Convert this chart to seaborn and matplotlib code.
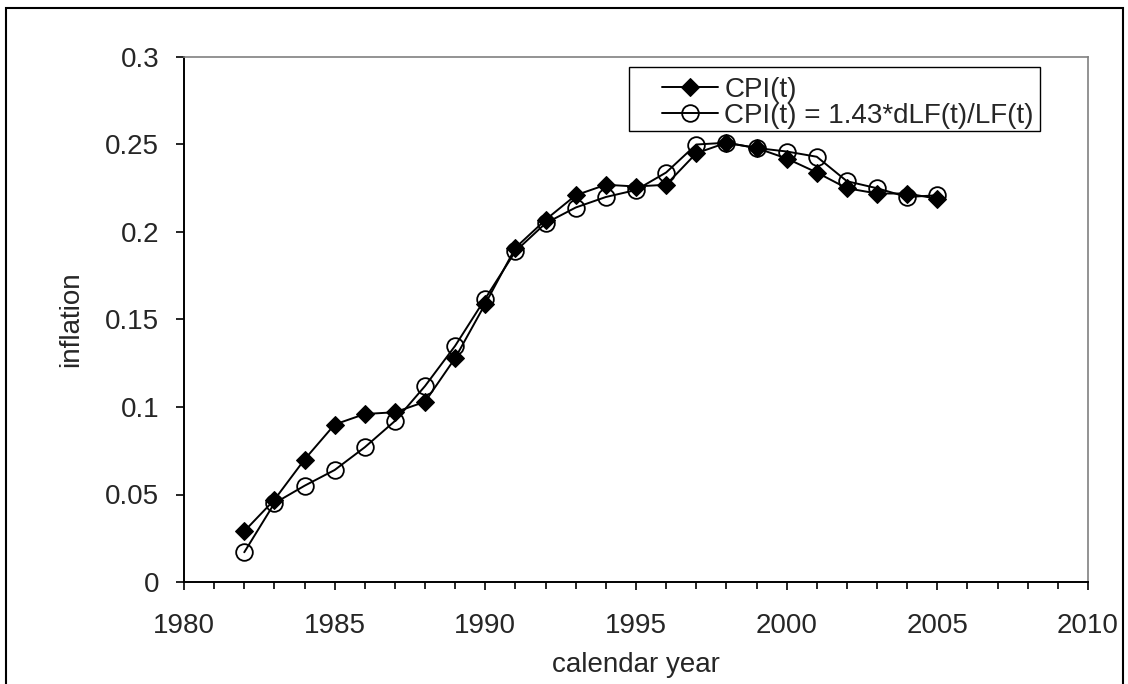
import numpy as np
import pandas as pd
import matplotlib
matplotlib.use("Agg")
import matplotlib.pyplot as plt
import matplotlib.ticker as mticker
from matplotlib.patches import Rectangle
import seaborn as sns

# values
years = list(range(1982, 2006))
cpi = [0.029, 0.047, 0.070, 0.090, 0.096, 0.097, 0.103, 0.128, 0.159, 0.191,
       0.207, 0.221, 0.227, 0.226, 0.227, 0.245, 0.251, 0.248, 0.242, 0.234,
       0.225, 0.222, 0.222, 0.219]
cpi_lf = [0.017, 0.045, 0.055, 0.064, 0.077, 0.092, 0.112, 0.135, 0.162, 0.189,
          0.205, 0.214, 0.220, 0.224, 0.234, 0.250, 0.251, 0.248, 0.246, 0.243,
          0.229, 0.225, 0.220, 0.221]
label_cpi = "CPI(t)"
label_fit = "CPI(t) = 1.43*dLF(t)/LF(t)"

df = pd.DataFrame({"year": years, "cpi": cpi, "cpi_lf": cpi_lf})

sns.set_style("ticks")
plt.rcParams["font.family"] = ["Liberation Sans", "DejaVu Sans"]
FS = 20

fig = plt.figure(figsize=(11.28, 6.84), dpi=100)
ax = fig.add_axes([184 / 1128, 102 / 684, 904 / 1128, 525 / 684])

# data lines (open circles under the diamonds, as in the original)
sns.lineplot(data=df, x="year", y="cpi", ax=ax, color="black", lw=1.4,
             marker="D", markersize=9.5, markerfacecolor="black",
             markeredgecolor="black", label=label_cpi, zorder=3)
sns.lineplot(data=df, x="year", y="cpi_lf", ax=ax, color="black", lw=1.4,
             marker="o", markersize=12, markerfacecolor="none",
             markeredgecolor="black", markeredgewidth=1.3, label=label_fit,
             zorder=2)

ax.set_xlim(1980, 2010)
ax.set_ylim(0, 0.3)
ax.xaxis.set_major_locator(mticker.MultipleLocator(5))
ax.xaxis.set_minor_locator(mticker.MultipleLocator(1))
ax.yaxis.set_major_locator(mticker.MultipleLocator(0.05))
ax.yaxis.set_major_formatter(mticker.FuncFormatter(lambda v, p: f"{v:g}"))
ax.tick_params(axis="both", which="major", direction="out", length=6,
               width=1.2, color="black", labelsize=FS)
ax.tick_params(axis="x", which="major", pad=16)
ax.tick_params(axis="y", which="major", pad=12)
ax.tick_params(axis="x", which="minor", direction="out", length=5,
               width=1.2, color="black")

ax.set_xlabel("calendar year", fontsize=FS, labelpad=10)
ax.set_ylabel("inflation", fontsize=FS, labelpad=15)

# spines: black axes, grey plot-area border
for s in ["left", "bottom"]:
    ax.spines[s].set_color("black")
    ax.spines[s].set_linewidth(1.4)
for s in ["top", "right"]:
    ax.spines[s].set_visible(True)
    ax.spines[s].set_color("#808080")
    ax.spines[s].set_linewidth(1.2)

# legend without its own frame; the box is drawn around it afterwards
leg = ax.legend(loc="upper left", bbox_to_anchor=((662 - 184) / 904, 0.962),
                fontsize=FS, frameon=False, borderpad=0, labelspacing=0,
                handlelength=2.0, handletextpad=0.25, borderaxespad=0)

fig.canvas.draw()
bb = leg.get_window_extent()
inv = ax.transAxes.inverted()
# frame: top edge at ~67 px from the top of the picture, as in the original
top_px = fig.bbox.height - 67
(x0, y0), (x1, y1) = inv.transform([(629, bb.y0 - 2), (bb.x1 + 6, top_px)])
ax.add_patch(Rectangle((x0, y0), x1 - x0, y1 - y0, transform=ax.transAxes,
                       fill=False, edgecolor="black", lw=1.0, zorder=5,
                       clip_on=False))

# outer chart border
fig.patches.append(Rectangle((6 / 1128, -0.05), 1117 / 1128, 1.05 - 8 / 684,
                             transform=fig.transFigure, fill=False,
                             edgecolor="black", lw=1.5))

fig.savefig("out.png", dpi=100)
